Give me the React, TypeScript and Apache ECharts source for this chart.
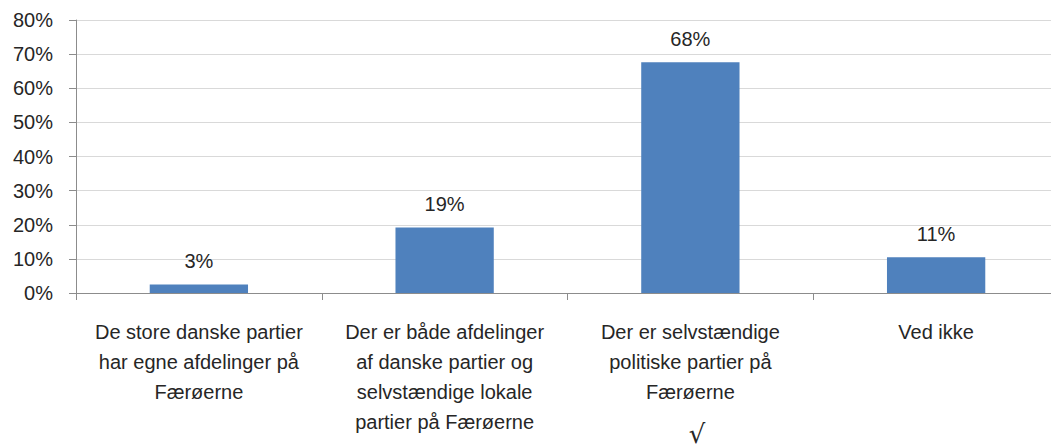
import React, { useEffect, useRef } from "react";
import * as echarts from "echarts";

const categories = [
  "De store danske partier\nhar egne afdelinger på\nFærøerne",
  "Der er både afdelinger\naf danske partier og\nselvstændige lokale\npartier på Færøerne",
  "Der er selvstændige\npolitiske partier på\nFærøerne",
  "Ved ikke",
];
const shares = [0.025, 0.192, 0.676, 0.105];
const yMin = 0;
const yMax = 0.8;
const yStep = 0.1;
const markNote = "√";

const FONT = "Liberation Sans, Arial, sans-serif";
const TEXT = "#262626";

export default function App() {
  const ref = useRef<HTMLDivElement>(null);
  useEffect(() => {
    if (!ref.current) return;
    const chart = echarts.init(ref.current, null, { renderer: "svg" });
    chart.setOption({
      animation: false,
      backgroundColor: "#ffffff",
      textStyle: { fontFamily: FONT },
      grid: {
        left: 76,
        width: 983,
        top: 20,
        bottom: 155,
        containLabel: false,
        outerBoundsMode: "none",
      },
      xAxis: {
        type: "category",
        data: categories,
        axisLine: { lineStyle: { color: "#8c8c8c", width: 1 } },
        axisTick: { show: true, length: 7, lineStyle: { color: "#8c8c8c" } },
        axisLabel: {
          interval: 0,
          margin: 24,
          fontSize: 20,
          lineHeight: 30,
          color: TEXT,
          fontFamily: FONT,
          align: "center",
        },
      },
      yAxis: {
        type: "value",
        min: yMin,
        max: yMax,
        interval: yStep,
        axisLine: { show: true, lineStyle: { color: "#8c8c8c", width: 1 } },
        axisTick: { show: true, length: 7, lineStyle: { color: "#8c8c8c" } },
        splitLine: { show: true, lineStyle: { color: "#d9d9d9", width: 1 } },
        axisLabel: {
          margin: 23,
          fontSize: 20,
          color: TEXT,
          fontFamily: FONT,
          formatter: (v: number) => `${Math.round(v * 100)}%`,
        },
      },
      series: [
        {
          type: "bar",
          data: shares,
          barWidth: "40%",
          itemStyle: { color: "#4f81bd" },
          label: {
            show: true,
            position: "top",
            distance: 13,
            fontSize: 20,
            color: TEXT,
            fontFamily: FONT,
            formatter: (p: any) => `${Math.round(p.value * 100)}%`,
          },
        },
      ],
      graphic: [
        {
          type: "text",
          x: 697,
          y: 434,
          style: {
            text: markNote,
            fontSize: 26,
            fill: TEXT,
            fontFamily: "DejaVu Sans, sans-serif",
            textAlign: "center",
            textVerticalAlign: "middle",
          },
        },
      ],
    });
    return () => chart.dispose();
  }, []);
  return <div ref={ref} style={{ width: 1051, height: 448, position: "absolute", left: 0, top: 0 }} />;
}
